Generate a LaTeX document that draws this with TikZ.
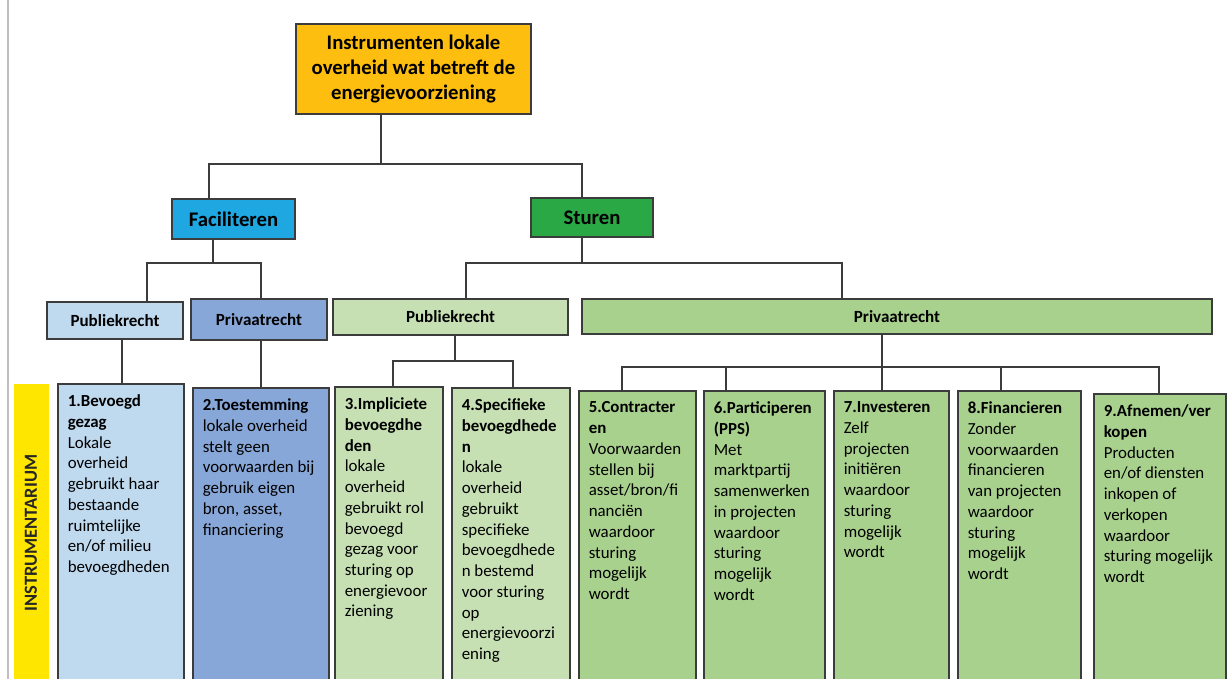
\documentclass[tikz,border=0pt]{standalone}
\usepackage{fontspec}
\setmainfont{Carlito}
\usetikzlibrary{positioning}
\definecolor{corange}{HTML}{FDBE10}
\definecolor{cfac}{HTML}{1EA7E1}
\definecolor{cstu}{HTML}{2AA846}
\definecolor{cpubf}{HTML}{BFD9EF}
\definecolor{cprivf}{HTML}{88A7D9}
\definecolor{cpubs}{HTML}{C6E0B4}
\definecolor{cprivs}{HTML}{A9D18E}
\definecolor{cyel}{HTML}{FFE600}
\definecolor{cedge}{HTML}{3C3C3C}
\tikzset{
  every picture/.style={line width=0.9pt},
  blk/.style={draw=cedge, fill=#1, inner sep=0pt, align=center, font=\bfseries\fontsize{9.7}{11.8}\selectfont},
  blk/.default=cprivs,
  col/.style={draw=cedge, fill=#1, inner sep=0pt, anchor=north west, minimum height=6.3cm},
  link/.style={draw=cedge, line width=0.9pt},
  txt/.style={align=left, inner sep=0pt, font=\fontsize{9.6}{11.8}\selectfont},
}

\begin{document}
\begin{tikzpicture}
  \useasboundingbox (0,0) rectangle (24.54,-13.58);
  \draw[black!25, line width=0.6pt] (0.16,0) -- (0.16,-13.58);

  % top levels
  \node[blk=corange, minimum width=4.70cm, minimum height=1.80cm, font=\bfseries\fontsize{11.8}{14.2}\selectfont] (root) at (8.27,-1.38) {Instrumenten lokale\\overheid wat betreft de\\energievoorziening};
  \node[blk=cfac, minimum width=2.46cm, minimum height=0.80cm, font=\bfseries\fontsize{11.8}{14}\selectfont] (fac) at (4.67,-4.38) {Faciliteren};
  \node[blk=cstu, minimum width=2.44cm, minimum height=0.78cm, font=\bfseries\fontsize{11.8}{14}\selectfont] (stu) at (11.84,-4.35) {Sturen};
  \node[blk=cpubf, minimum width=2.72cm, minimum height=0.74cm] (pubF) at (2.30,-6.41) {Publiekrecht};
  \node[blk=cprivf, minimum width=2.72cm, minimum height=0.82cm] (privF) at (5.18,-6.39) {Privaatrecht};
  \node[blk=cpubs, minimum width=4.70cm, minimum height=0.72cm] (pubS) at (9.01,-6.34) {Publiekrecht};
  \node[blk, minimum width=12.60cm, minimum height=0.70cm] (privS) at (17.94,-6.33) {Privaatrecht};

  % instrumentarium
  \node[fill=cyel, inner sep=0pt, anchor=north west, minimum width=0.70cm, minimum height=6.3cm] (yel) at (0.26,-7.66) {};
  \node[rotate=90, inner sep=0pt, font=\bfseries\fontsize{10.5}{12}\selectfont, text=black!85] (instr) at (0.62,-10.66) {INSTRUMENTARIUM};
  \node[col=cpubf, minimum width=2.52cm] (b1) at (1.14,-7.66) {};
  \node[col=cprivf, minimum width=2.72cm] (b2) at (3.84,-7.74) {};
  \node[col=cpubs, minimum width=2.16cm] (b3) at (6.68,-7.72) {};
  \node[col=cpubs, minimum width=2.36cm] (b4) at (9.02,-7.74) {};
  \node[col=cprivs, minimum width=2.34cm] (b5) at (11.56,-7.80) {};
  \node[col=cprivs, minimum width=2.42cm] (b6) at (14.06,-7.80) {};
  \node[col=cprivs, minimum width=2.30cm] (b7) at (16.66,-7.80) {};
  \node[col=cprivs, minimum width=2.46cm] (b8) at (19.14,-7.80) {};
  \node[col=cprivs, minimum width=2.64cm] (b9) at (21.86,-7.86) {};

  \node[txt, below right=0.22cm and 0.2cm of b1.north west] (t1) {\textbf{1.Bevoegd}\\\textbf{gezag}\\Lokale\\overheid\\gebruikt haar\\bestaande\\ruimtelijke\\en/of milieu\\bevoegdheden};
  \node[txt, below right=0.22cm and 0.2cm of b2.north west] (t2) {\textbf{2.Toestemming}\\lokale overheid\\stelt geen\\voorwaarden bij\\gebruik eigen\\bron, asset,\\financiering};
  \node[txt, below right=0.22cm and 0.2cm of b3.north west] (t3) {\textbf{3.Impliciete}\\\textbf{bevoegdhe}\\\textbf{den}\\lokale\\overheid\\gebruikt rol\\bevoegd\\gezag voor\\sturing op\\energievoor\\ziening};
  \node[txt, below right=0.22cm and 0.2cm of b4.north west] (t4) {\textbf{4.Specifieke}\\\textbf{bevoegdhede}\\\textbf{n}\\lokale\\overheid\\gebruikt\\specifieke\\bevoegdhede\\n bestemd\\voor sturing\\op\\energievoorzi\\ening};
  \node[txt, below right=0.22cm and 0.2cm of b5.north west] (t5) {\textbf{5.Contracter}\\\textbf{en}\\Voorwaarden\\stellen bij\\asset/bron/fi\\nanciën\\waardoor\\sturing\\mogelijk\\wordt};
  \node[txt, below right=0.22cm and 0.2cm of b6.north west] (t6) {\textbf{6.Participeren}\\\textbf{(PPS)}\\Met\\marktpartij\\samenwerken\\in projecten\\waardoor\\sturing\\mogelijk\\wordt};
  \node[txt, below right=0.22cm and 0.2cm of b7.north west] (t7) {\textbf{7.Investeren}\\Zelf\\projecten\\initiëren\\waardoor\\sturing\\mogelijk\\wordt};
  \node[txt, below right=0.22cm and 0.2cm of b8.north west] (t8) {\textbf{8.Financieren}\\Zonder\\voorwaarden\\financieren\\van projecten\\waardoor\\sturing\\mogelijk\\wordt};
  \node[txt, below right=0.22cm and 0.2cm of b9.north west] (t9) {\textbf{9.Afnemen/ver}\\\textbf{kopen}\\Producten\\en/of diensten\\inkopen of\\verkopen\\waardoor\\sturing mogelijk\\wordt};

  % connectors
  \coordinate (jT) at (7.62,-3.28);
  \coordinate (jF) at (4.26,-5.26);
  \coordinate (jS) at (11.64,-5.26);
  \coordinate (jP) at (9.10,-7.22);
  \coordinate (jQ) at (17.64,-7.34);
  \draw[link] (root.south -| jT) -- (jT);
  \draw[link] (fac.north -| 4.18,0) |- (jT) -| (stu.north -| 11.64,0);
  \draw[link] (fac.south -| jF) -- (jF);
  \draw[link] (pubF.north -| 2.94,0) |- (jF) -| (privF.north -| 5.22,0);
  \draw[link] (stu.south -| jS) -- (jS);
  \draw[link] (pubS.north -| 9.32,0) |- (jS) -| (privS.north -| 16.84,0);
  \draw[link] (pubF.south -| 2.44,0) -- (b1.north -| 2.44,0);
  \draw[link] (privF.south -| 5.22,0) -- (b2.north -| 5.22,0);
  \draw[link] (pubS.south -| jP) -- (jP);
  \draw[link] (b3.north -| 7.86,0) |- (jP) -| (b4.north -| 10.26,0);
  \draw[link] (privS.south -| jQ) -- (b7.north -| jQ);
  \draw[link] (b5.north -| 12.44,0) |- (jQ) -| (b9.north -| 23.18,0);
  \foreach \b/\xx in {b6/14.52, b8/20.02}
    \draw[link] (\b.north -| \xx,0) -- (jQ -| \xx,0);
\end{tikzpicture}
\end{document}
